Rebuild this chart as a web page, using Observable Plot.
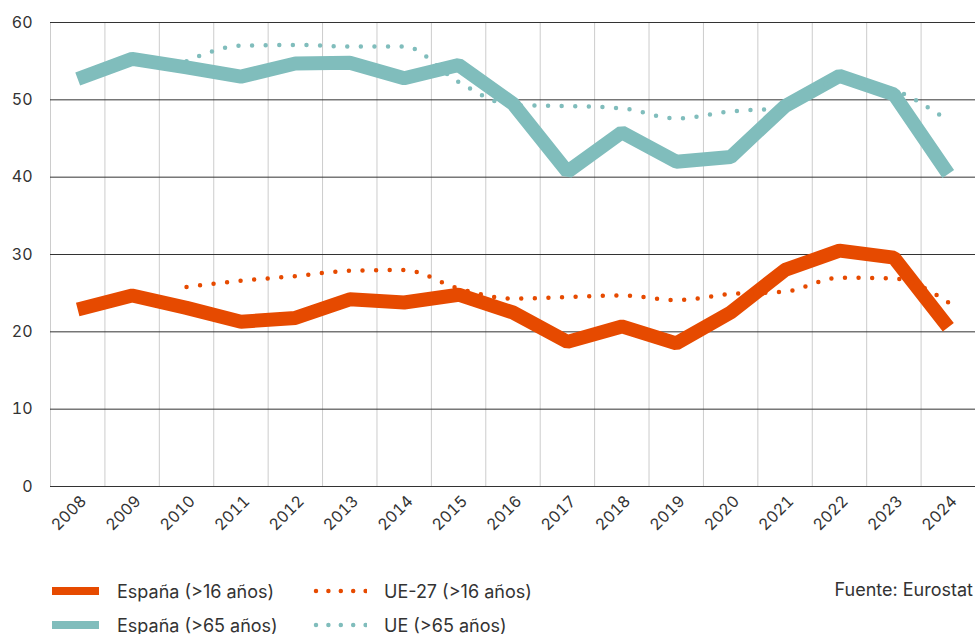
<!DOCTYPE html>
<html><head><meta charset="utf-8">
<script src="https://cdn.jsdelivr.net/npm/d3@7"></script>
<script src="https://cdn.jsdelivr.net/npm/@observablehq/plot@0.6"></script>
<style>
body{margin:0;background:#fff;font-family:Inter,"Open Sans",sans-serif;color:#333}
#wrap{position:relative;width:975px;height:634px;overflow:hidden}
#chart{position:absolute;left:0;top:0}
.item{position:absolute;display:flex;align-items:center;font-size:18px;color:#333;white-space:nowrap;height:20px}
.item svg{margin-right:17px}
#fuente{position:absolute;right:2px;top:580px;font-size:18px;color:#333;line-height:20px}
</style></head><body>
<div id="wrap"><div id="chart"></div>
<div class="item" style="left:52px;top:581px"><svg width="48" height="10"><rect x="0" y="1" width="47" height="8" fill="#E64A00"/></svg>España (&gt;16 años)</div>
<div class="item" style="left:313px;top:581px"><svg width="54" height="10"><line x1="3" x2="54" y1="5" y2="5" stroke="#E64A00" stroke-width="4.5" stroke-linecap="round" stroke-dasharray="0 12.4"/></svg>UE-27 (&gt;16 años)</div>
<div class="item" style="left:52px;top:615px"><svg width="48" height="10"><rect x="0" y="1" width="47" height="8" fill="#80BDBC"/></svg>España (&gt;65 años)</div>
<div class="item" style="left:313px;top:615px"><svg width="54" height="10"><line x1="3" x2="54" y1="5" y2="5" stroke="#80BDBC" stroke-width="4.5" stroke-linecap="round" stroke-dasharray="0 12.4"/></svg>UE (&gt;65 años)</div>
<div id="fuente">Fuente: Eurostat</div>
</div>
<script>
const years = [2008,2009,2010,2011,2012,2013,2014,2015,2016,2017,2018,2019,2020,2021,2022,2023,2024];
const espana16 = [22.9,24.7,23.1,21.3,21.8,24.2,23.8,24.8,22.5,18.7,20.7,18.5,22.5,28.0,30.5,29.6,20.6];
const ue16     = [null,null,25.8,26.6,27.2,27.9,28.0,25.6,24.3,24.5,24.7,24.1,24.9,25.2,27.0,26.9,23.8];
const espana65 = [52.7,55.3,54.2,53.0,54.7,54.8,52.8,54.5,49.5,40.7,45.8,42.0,42.6,49.2,53.1,50.7,40.4];
const ue65     = [null,null,55.0,57.0,57.1,56.9,56.9,52.3,49.3,49.2,48.9,47.6,48.5,49.0,52.6,51.3,47.3];
const yTicks = [0,10,20,30,40,50,60];

const ORANGE = "#E64A00", TEAL = "#80BDBC";
const rows = (vals) => years.map((yr, i) => ({year: yr, value: vals[i]})).filter(d => d.value != null);
const bounds = [...years.map(y => y - 0.5), years[years.length - 1] + 0.5];

const chart = Plot.plot({
  width: 975,
  height: 550,
  marginTop: 22,
  marginBottom: 64,
  marginLeft: 50,
  marginRight: 0,
  style: {fontFamily: "Inter, 'Open Sans', sans-serif", fontSize: "16px", color: "#333", background: "#fff"},
  x: {domain: [2007.5, 2024.5], label: null},
  y: {domain: [0, 60], label: null},
  marks: [
    Plot.ruleX(bounds, {stroke: "#ccc", strokeWidth: 1}),
    Plot.ruleY(yTicks, {stroke: "#333", strokeWidth: 1}),
    Plot.axisY({ticks: yTicks, tickSize: 0, tickPadding: 18, fontSize: 16, fill: "#333", label: null}),
    Plot.axisX({ticks: years, tickFormat: d => String(d), tickSize: 0, tickPadding: 12, tickRotate: -45, fontSize: 16, fill: "#333", dx: 6, label: null}),
    Plot.line(rows(espana65), {x: "year", y: "value", stroke: TEAL, strokeWidth: 14, strokeLinejoin: "miter", strokeLinecap: "butt"}),
    Plot.line(rows(espana16), {x: "year", y: "value", stroke: ORANGE, strokeWidth: 14, strokeLinejoin: "miter", strokeLinecap: "butt"}),
    Plot.line(rows(ue65), {x: "year", y: "value", stroke: TEAL, strokeWidth: 4.5, strokeLinecap: "round", strokeDasharray: "0 13.6", curve: "monotone-x"}),
    Plot.line(rows(ue16), {x: "year", y: "value", stroke: ORANGE, strokeWidth: 4.5, strokeLinecap: "round", strokeDasharray: "0 13.6", curve: "monotone-x"})
  ]
});
document.getElementById("chart").appendChild(chart);
</script>
</body></html>
